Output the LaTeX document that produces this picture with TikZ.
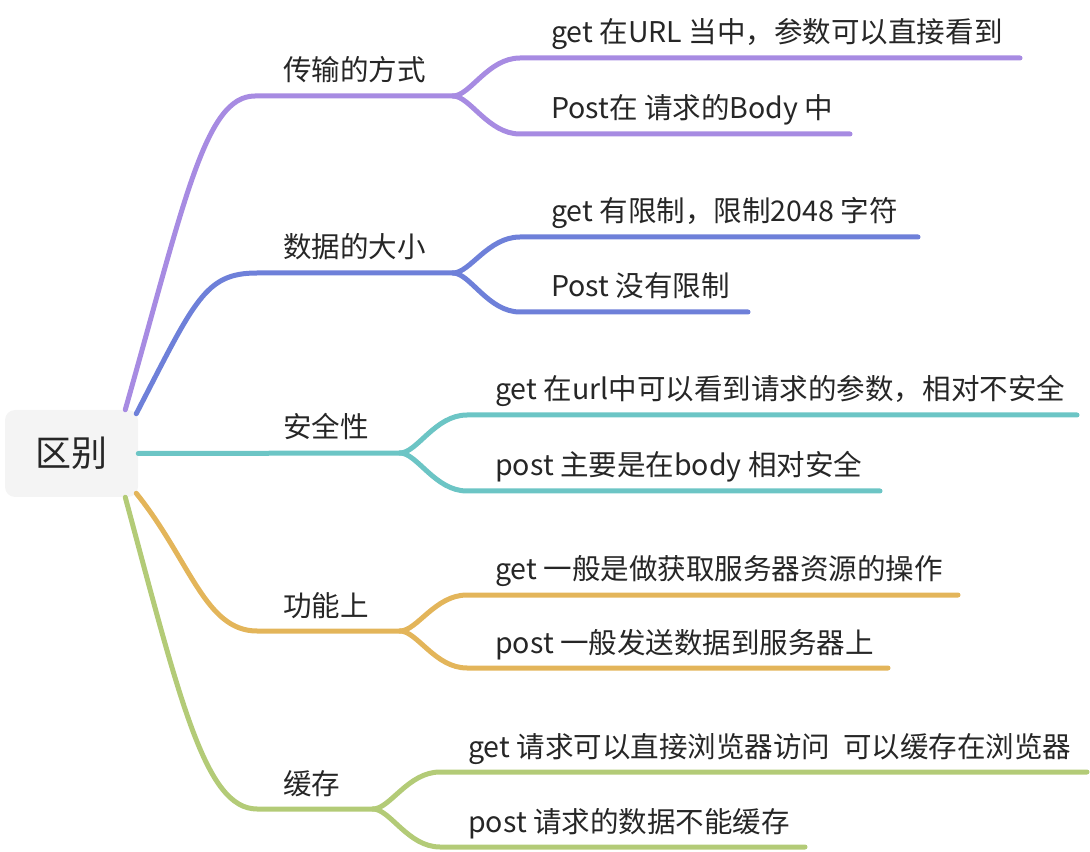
\documentclass[tikz,border=0pt]{standalone}
\usepackage{fontspec}
\setmainfont{Noto Sans CJK SC}
\usetikzlibrary{calc}
\definecolor{mmPurple}{HTML}{A78BE2}
\definecolor{mmBlue}{HTML}{6E80D9}
\definecolor{mmTeal}{HTML}{6CC5C5}
\definecolor{mmGold}{HTML}{E3B55A}
\definecolor{mmGreen}{HTML}{B3CB77}
\definecolor{mmRoot}{HTML}{F4F4F4}
\definecolor{mmText}{HTML}{262626}
\tikzset{
  rootbox/.style={rounded corners=7.5pt, fill=mmRoot, draw=none, align=center, text=mmText, font=\fontsize{27}{31}\selectfont},
  topic/.style={anchor=base west, inner sep=0pt, text=mmText, font=\fontsize{21.4}{25}\selectfont},
  leaf/.style={anchor=base west, inner sep=0pt, text=mmText, font=\fontsize{21.4}{25}\selectfont},
  edge/.style={line width=3.75pt, line cap=round, draw=#1}
}

\begin{document}
\begin{tikzpicture}[x=0.75pt,y=-0.75pt]
  \useasboundingbox (0,0) rectangle (1090,852);
  \node[rootbox, minimum width=99.75pt, minimum height=65.25pt] (root) at (71.5,453.5) {区别};
  % fork points
  \coordinate (f1) at (453,96);
  \coordinate (f2) at (453,273);
  \coordinate (f3) at (400,453);
  \coordinate (f4) at (400,631);
  \coordinate (f5) at (373,809);
  % topics
  \node[topic] (t1) at (283,81) {传输的方式};
  \node[topic] (t2) at (283,258) {数据的大小};
  \node[topic] (t3) at (283,438) {安全性};
  \node[topic] (t4) at (283,616) {功能上};
  \node[topic] (t5) at (283,794) {缓存};
  \draw[edge=mmPurple] ($(root.north east)+(-13,0)$) .. controls (185,200) and (205,96) .. (255,96) -- (f1);
  \draw[edge=mmBlue] ($(root.north east)+(-2,4)$) .. controls (195,300) and (205,273) .. (257,273) -- (f2);
  \draw[edge=mmTeal] (root.east) -- (f3);
  \draw[edge=mmGold] ($(root.south east)+(-2,-4)$) .. controls (190,560) and (205,631) .. (257,631) -- (f4);
  \draw[edge=mmGreen] ($(root.south east)+(-13,0)$) .. controls (180,700) and (205,809) .. (257,809) -- (f5);
  % leaves
  \node[leaf] (c11) at (551,43) {get 在URL 当中，参数可以直接看到};
  \node[leaf] (c12) at (551,119) {Post在 请求的Body 中};
  \node[leaf] (c21) at (551,222) {get 有限制，限制2048 字符};
  \node[leaf] (c22) at (551,297) {Post 没有限制};
  \node[leaf] (c31) at (495,400) {get 在url中可以看到请求的参数，相对不安全};
  \node[leaf] (c32) at (495,476) {post 主要是在body 相对安全};
  \node[leaf] (c41) at (495,580) {get 一般是做获取服务器资源的操作};
  \node[leaf] (c42) at (495,653) {post 一般发送数据到服务器上};
  \node[leaf] (c51) at (468,757) {get 请求可以直接浏览器访问\ \ 可以缓存在浏览器};
  \node[leaf] (c52) at (468,832) {post 请求的数据不能缓存};
  \coordinate (e11) at (1020,58);  \coordinate (e12) at (850,134);
  \coordinate (e21) at (918,237);  \coordinate (e22) at (748,312);
  \coordinate (e31) at (1077,415); \coordinate (e32) at (880,491);
  \coordinate (e41) at (958,595);  \coordinate (e42) at (888,668);
  \coordinate (e51) at (1087,772); \coordinate (e52) at (805,847);
  \draw[edge=mmPurple] (f1) .. controls +(17,0) and +(-32,0) .. (520,58) -- (e11);
  \draw[edge=mmPurple] (f1) .. controls +(17,0) and +(-32,0) .. (520,134) -- (e12);
  \draw[edge=mmBlue] (f2) .. controls +(17,0) and +(-32,0) .. (520,237) -- (e21);
  \draw[edge=mmBlue] (f2) .. controls +(17,0) and +(-32,0) .. (520,312) -- (e22);
  \draw[edge=mmTeal] (f3) .. controls +(17,0) and +(-32,0) .. (467,415) -- (e31);
  \draw[edge=mmTeal] (f3) .. controls +(17,0) and +(-32,0) .. (467,491) -- (e32);
  \draw[edge=mmGold] (f4) .. controls +(17,0) and +(-32,0) .. (467,595) -- (e41);
  \draw[edge=mmGold] (f4) .. controls +(17,0) and +(-32,0) .. (467,668) -- (e42);
  \draw[edge=mmGreen] (f5) .. controls +(17,0) and +(-32,0) .. (440,772) -- (e51);
  \draw[edge=mmGreen] (f5) .. controls +(17,0) and +(-32,0) .. (440,847) -- (e52);
\end{tikzpicture}
\end{document}
